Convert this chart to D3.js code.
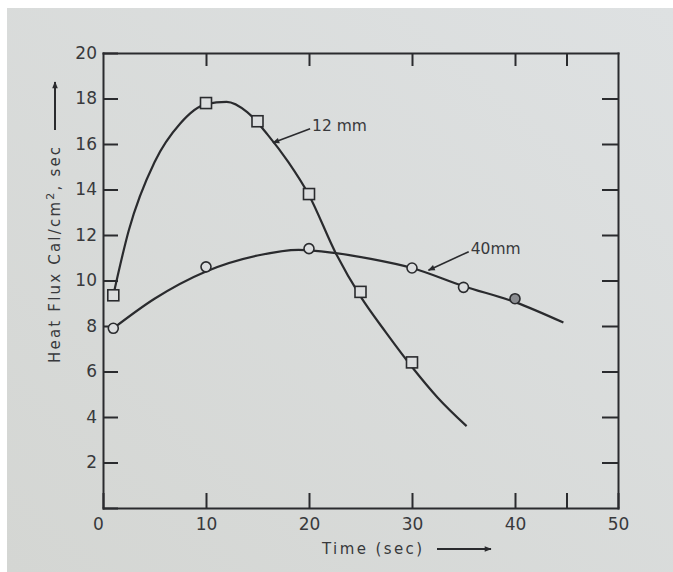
<!DOCTYPE html>
<html>
<head>
<meta charset="utf-8">
<script src="https://cdn.jsdelivr.net/npm/d3@7"></script>
<style>
  html, body { margin: 0; padding: 0; background: #fff; }
  svg { display: block; }
  .axis path, .axis line { stroke: #2a2b2e; stroke-width: 2; }
  .axis text { font-family: "DejaVu Sans", sans-serif; font-size: 17px; fill: #38393c; }
</style>
</head>
<body>
<div id="chart"></div>
<script>
// values
const timeTicks = [0, 10, 20, 30, 40, 45, 50];
const frameTicks = [10, 20, 30, 40, 45];
const fluxTicks = [0, 2, 4, 6, 8, 10, 12, 14, 16, 18, 20];

// measured points
const time12 = [1, 10, 15, 20, 25, 30];
const flux12 = [9.35, 17.8, 17.0, 13.8, 9.5, 6.4];
const time40 = [1, 10, 20, 30, 35, 40];
const flux40 = [7.9, 10.6, 11.4, 10.55, 9.7, 9.2];

// hand drawn fitted curves
const curveTime12 = [1, 2.5, 5, 7.5, 10, 12, 14, 16, 18, 20, 22.6, 25, 27.5, 30, 32.5, 35.3];
const curveFlux12 = [9.35, 12.2, 15.2, 16.9, 17.75, 17.85, 17.4, 16.4, 15.2, 13.75, 11.2, 9.3, 7.7, 6.2, 4.85, 3.6];
const curveTime40 = [1, 5, 10, 15, 19, 22.6, 26, 30, 35, 40, 44.7];
const curveFlux40 = [7.9, 9.2, 10.4, 11.1, 11.35, 11.2, 10.95, 10.55, 9.75, 9.05, 8.15];

// labels with leader arrows: [text, text time, text flux, tip time, tip flux]
const labels = [
  ["12 mm", 20.3, 16.8, 16.5, 16.05],
  ["40mm", 35.7, 11.4, 31.6, 10.45]
];

const width = 673, height = 572;

const svg = d3.select("#chart").append("svg")
  .attr("width", width)
  .attr("height", height);

// paper
const defs = svg.append("defs");
const grad = defs.append("linearGradient").attr("id", "paper")
  .attr("x1", 0).attr("y1", 1).attr("x2", 1).attr("y2", 0);
grad.append("stop").attr("offset", 0).attr("stop-color", "#d4d6d3");
grad.append("stop").attr("offset", 1).attr("stop-color", "#dee1e2");
svg.append("rect").attr("x", 7).attr("y", 8)
  .attr("width", width - 7).attr("height", height - 8)
  .attr("fill", "url(#paper)");

defs.append("marker").attr("id", "head")
  .attr("viewBox", "0 0 10 10").attr("refX", 9).attr("refY", 5)
  .attr("markerWidth", 9).attr("markerHeight", 7)
  .attr("markerUnits", "userSpaceOnUse")
  .attr("orient", "auto")
  .append("path").attr("d", "M0,1 L10,5 L0,9 Z").attr("fill", "#2a2b2e");

const x = d3.scaleLinear().domain([0, 50]).range([103, 618]);
const y = d3.scaleLinear().domain([0, 20]).range([508, 53]);

// frame with inward ticks
const bottom = svg.append("g").attr("class", "axis")
  .attr("transform", `translate(0,${y(0)})`)
  .call(d3.axisBottom(x).tickValues(timeTicks).tickSizeInner(-15).tickSizeOuter(0)
    .tickPadding(10).tickFormat(d => d === 45 ? "" : d));
bottom.select(".tick text").attr("dx", "-0.3em");

svg.append("g").attr("class", "axis")
  .attr("transform", `translate(${x(0)},0)`)
  .call(d3.axisLeft(y).tickValues(fluxTicks).tickSizeInner(-15).tickSizeOuter(0)
    .tickPadding(6).tickFormat(d => d === 0 ? "" : d));

svg.append("g").attr("class", "axis")
  .attr("transform", `translate(0,${y(20)})`)
  .call(d3.axisTop(x).tickValues(frameTicks).tickSizeInner(-13).tickSizeOuter(0).tickFormat(""));

svg.append("g").attr("class", "axis")
  .attr("transform", `translate(${x(50)},0)`)
  .call(d3.axisRight(y).tickValues(fluxTicks.slice(1, -1)).tickSizeInner(-16).tickSizeOuter(0).tickFormat(""));

svg.selectAll(".axis .domain").attr("stroke-linecap", "square");

// fitted curves
const line = d3.line()
  .x(d => x(d[0]))
  .y(d => y(d[1]))
  .curve(d3.curveMonotoneX);

[[curveTime12, curveFlux12], [curveTime40, curveFlux40]].forEach(([ts, qs]) => {
  svg.append("path")
    .datum(ts.map((t, i) => [t, qs[i]]))
    .attr("d", line)
    .attr("fill", "none")
    .attr("stroke", "#2a2b2e")
    .attr("stroke-width", 2.2);
});

// squares for 12 mm
svg.selectAll(".sq")
  .data(time12.map((t, i) => [t, flux12[i]]))
  .enter().append("rect")
  .attr("class", "sq")
  .attr("x", d => x(d[0]) - 5.5)
  .attr("y", d => y(d[1]) - 5.5)
  .attr("width", 11).attr("height", 11)
  .attr("fill", "#dcdedf")
  .attr("stroke", "#2a2b2e")
  .attr("stroke-width", 1.6);

// circles for 40 mm
svg.selectAll(".ci")
  .data(time40.map((t, i) => [t, flux40[i]]))
  .enter().append("circle")
  .attr("class", "ci")
  .attr("cx", d => x(d[0]))
  .attr("cy", d => y(d[1]))
  .attr("r", 5)
  .attr("fill", (d, i) => i === time40.length - 1 ? "#8a8c90" : "#dcdedf")
  .attr("stroke", "#2a2b2e")
  .attr("stroke-width", 1.6);

// curve labels
labels.forEach(([txt, tx, ty, px, py]) => {
  svg.append("line")
    .attr("x1", x(tx) - 2).attr("y1", y(ty) + 3)
    .attr("x2", x(px)).attr("y2", y(py))
    .attr("stroke", "#2a2b2e").attr("stroke-width", 1.6)
    .attr("marker-end", "url(#head)");
  svg.append("text")
    .attr("x", x(tx)).attr("y", y(ty))
    .attr("dy", "0.35em")
    .attr("font-family", "DejaVu Sans, sans-serif")
    .attr("font-size", 15.5)
    .attr("fill", "#38393c")
    .text(txt);
});

// axis titles
svg.append("text")
  .attr("x", 322).attr("y", 554)
  .attr("font-family", "DejaVu Sans, sans-serif")
  .attr("font-size", 15)
  .attr("letter-spacing", 2.4)
  .attr("fill", "#38393c")
  .text("Time (sec)");
svg.append("line")
  .attr("x1", 437).attr("y1", 549).attr("x2", 491).attr("y2", 549)
  .attr("stroke", "#2a2b2e").attr("stroke-width", 2)
  .attr("marker-end", "url(#head)");

const yTitle = svg.append("text")
  .attr("transform", "translate(60,363) rotate(-90)")
  .attr("font-family", "DejaVu Sans, sans-serif")
  .attr("font-size", 15)
  .attr("letter-spacing", 2.2)
  .attr("fill", "#38393c");
yTitle.append("tspan").text("Heat Flux  Cal/cm");
yTitle.append("tspan").attr("baseline-shift", "super").attr("font-size", 11).text("2");
yTitle.append("tspan").text(", sec");
svg.append("line")
  .attr("x1", 55).attr("y1", 130).attr("x2", 55).attr("y2", 82)
  .attr("stroke", "#2a2b2e").attr("stroke-width", 2)
  .attr("marker-end", "url(#head)");
</script>
</body>
</html>
